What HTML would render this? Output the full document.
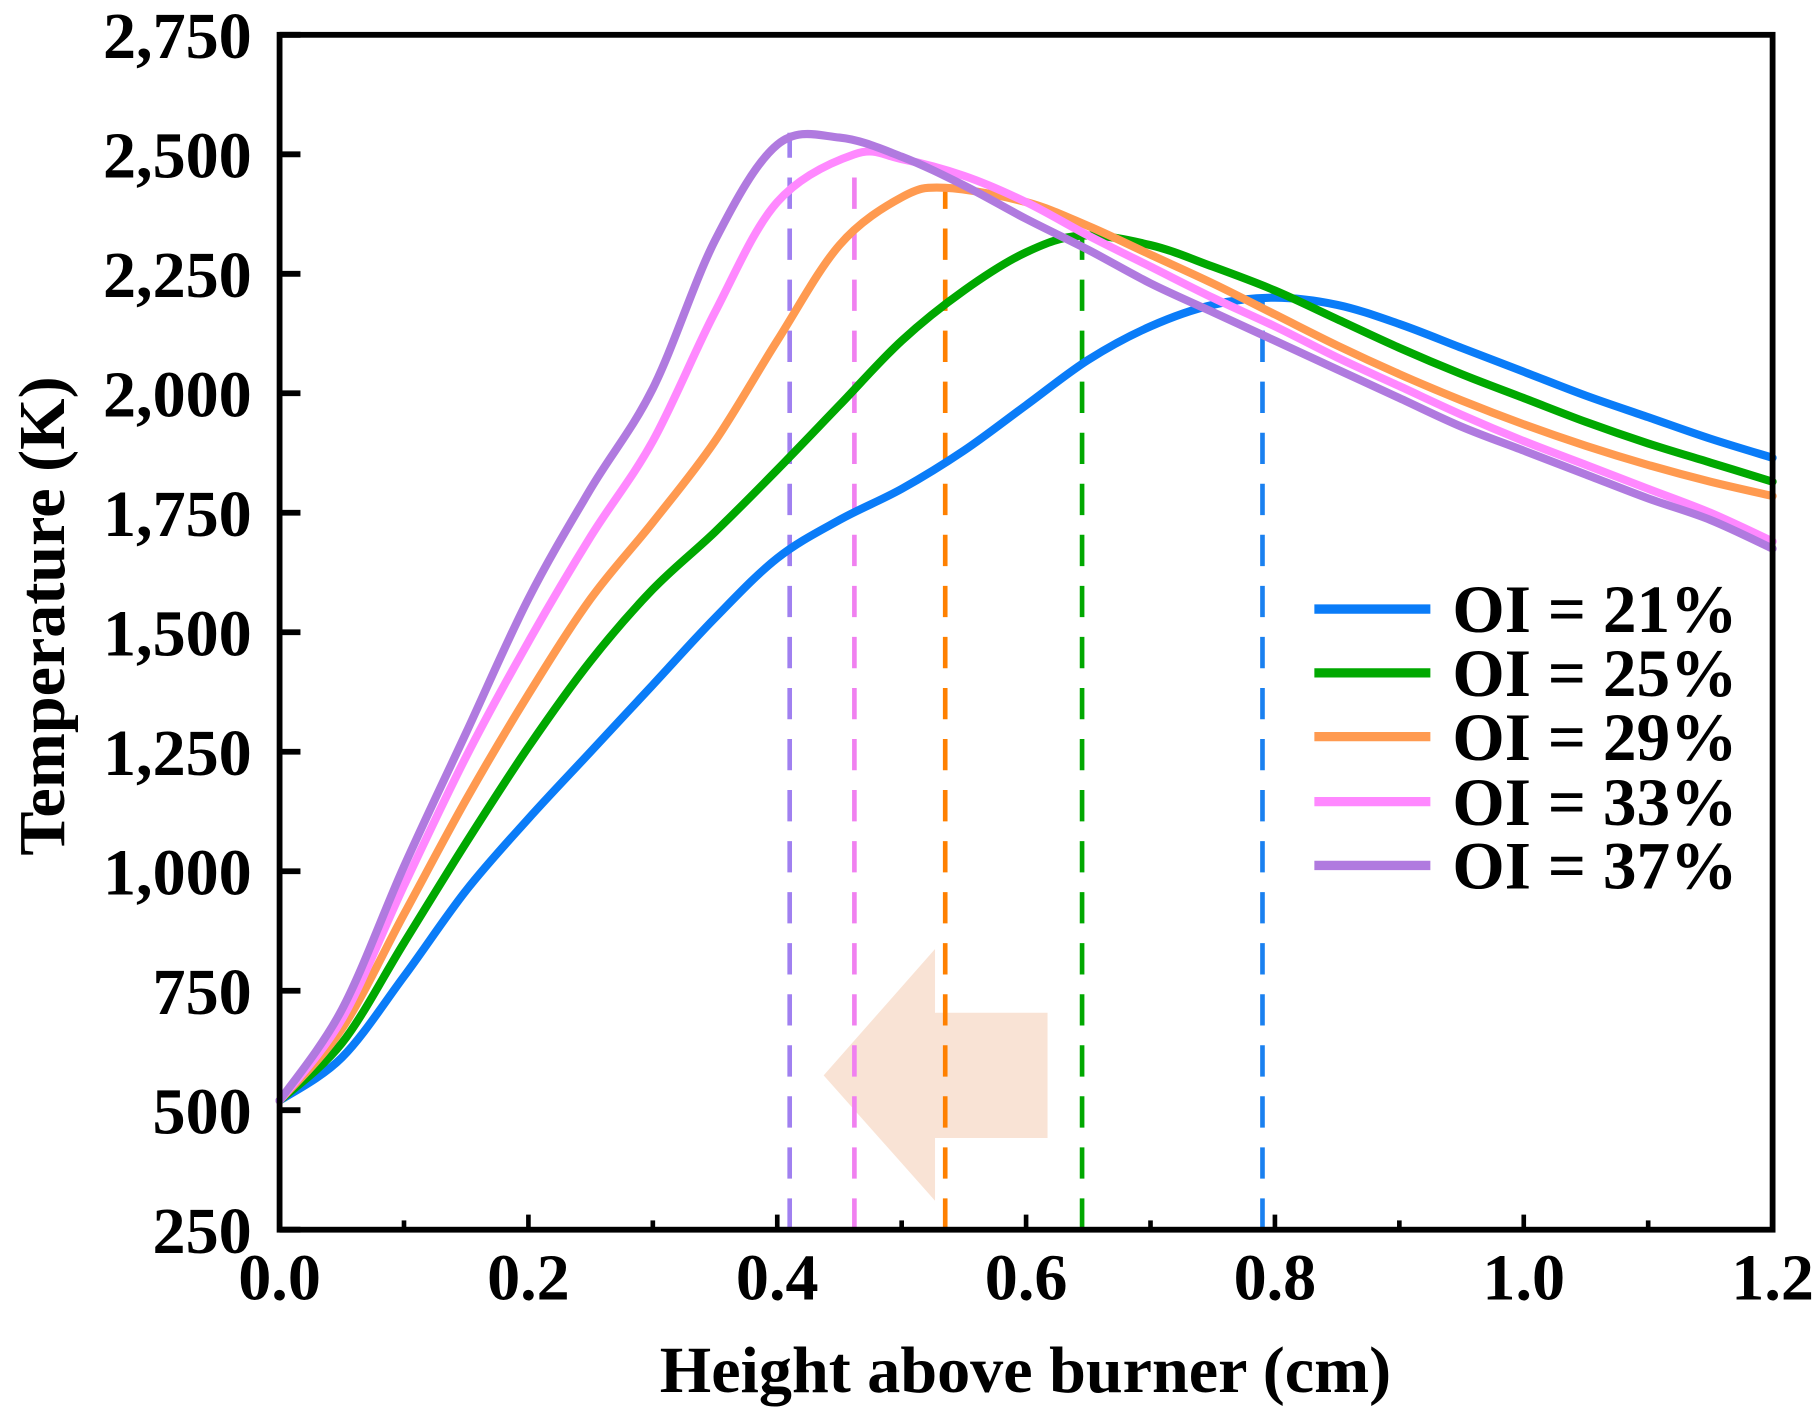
<!DOCTYPE html>
<html><head><meta charset="utf-8"><style>
html,body{margin:0;padding:0;background:#fff;}
svg{display:block;}
text{font-family:"Liberation Serif",serif;font-weight:bold;fill:#000;}
</style></head><body>
<svg id="chart" width="1819" height="1413" viewBox="0 0 1568 1218" xmlns="http://www.w3.org/2000/svg"></svg>
<script>
const xTicks=[0,0.2,0.4,0.6,0.8,1.0,1.2];
const xTickLabels=["0.0","0.2","0.4","0.6","0.8","1.0","1.2"];
const yTicks=[250,500,750,1000,1250,1500,1750,2000,2250,2500,2750];
const yTickLabels=["250","500","750","1,000","1,250","1,500","1,750","2,000","2,250","2,500","2,750"];
const seriesNames=["OI = 21%","OI = 25%","OI = 29%","OI = 33%","OI = 37%"];
const seriesColors=["#0a7cf8","#00a800","#ff9a50","#ff88ff","#b07adf"];
const dashColors=["#1a80f0","#00a800","#ff8000","#f080f0","#a080f0"];
const x21=[0,0.05,0.1,0.15,0.2,0.25,0.3,0.35,0.4,0.45,0.5,0.55,0.6,0.65,0.7,0.75,0.8,0.85,0.9,0.95,1.0,1.05,1.1,1.15,1.2];
const t21=[520,610,780,960,1110,1250,1390,1530,1655,1735,1800,1880,1975,2070,2140,2185,2200,2185,2145,2095,2045,1995,1950,1905,1865];
const x25=[0,0.05,0.1,0.15,0.2,0.25,0.3,0.35,0.4,0.45,0.5,0.55,0.6,0.645,0.7,0.75,0.8,0.85,0.9,0.95,1.0,1.05,1.1,1.15,1.2];
const t25=[520,640,850,1060,1260,1440,1590,1710,1840,1975,2110,2215,2295,2330,2310,2265,2215,2155,2095,2040,1990,1940,1895,1855,1815];
const x29=[0,0.05,0.1,0.15,0.2,0.25,0.3,0.35,0.4,0.45,0.5,0.535,0.6,0.65,0.7,0.75,0.8,0.85,0.9,0.95,1.0,1.05,1.1,1.15,1.2];
const t29=[520,670,910,1150,1370,1570,1730,1900,2110,2310,2410,2430,2400,2350,2290,2230,2165,2100,2040,1985,1935,1890,1850,1815,1785];
const x33=[0,0.05,0.1,0.15,0.2,0.25,0.3,0.35,0.4,0.462,0.5,0.55,0.6,0.65,0.7,0.75,0.8,0.85,0.9,0.95,1.0,1.05,1.1,1.15,1.2];
const t33=[520,690,970,1240,1480,1700,1900,2170,2400,2500,2490,2455,2400,2330,2265,2200,2140,2075,2015,1955,1900,1850,1800,1750,1690];
const x37=[0,0.05,0.1,0.15,0.2,0.25,0.3,0.35,0.4,0.45,0.5,0.55,0.6,0.65,0.7,0.75,0.8,0.85,0.9,0.95,1.0,1.05,1.1,1.15,1.2];
const t37=[520,710,1010,1290,1570,1800,2010,2320,2520,2535,2495,2435,2365,2300,2230,2170,2110,2050,1990,1930,1880,1830,1780,1735,1675];
const peakX=[0.79,0.645,0.535,0.462,0.41];
const peakT=[2200,2330,2430,2500,2545];

const svg=document.getElementById('chart');
const NS='http://www.w3.org/2000/svg';
const L=241,R=1528,T=30,B=1060;
const sx=v=>L+(v-0)/1.2*(R-L);
const sy=v=>B-(v-250)/2500*(B-T);
function mk(tag,attrs,parent){const e=document.createElementNS(NS,tag);for(const k in attrs)e.setAttribute(k,attrs[k]);(parent||svg).appendChild(e);return e;}

const arrow=mk('polygon',{points:'903,873 903,981 806,981 806,1035 710,927 806,818 806,873',fill:'#f9e3d5'});



const allX=[x21,x25,x29,x33,x37], allT=[t21,t25,t29,t33,t37];
for(let i=0;i<5;i++){
  const d=mk('line',{x1:sx(peakX[i]),x2:sx(peakX[i]),y1:B,y2:sy(peakT[i]),stroke:dashColors[i],'stroke-width':4,'stroke-dasharray':'27 17'});
  
  
}
function pathFor(xs,ts){
  const p=xs.map((x,i)=>[sx(x),sy(ts[i])]);
  let d='M'+p[0][0]+','+p[0][1];
  for(let i=0;i<p.length-1;i++){
    const p0=p[i-1]||p[i],p1=p[i],p2=p[i+1],p3=p[i+2]||p[i+1];
    const c1=[p1[0]+(p2[0]-p0[0])/6,p1[1]+(p2[1]-p0[1])/6];
    const c2=[p2[0]-(p3[0]-p1[0])/6,p2[1]-(p3[1]-p1[1])/6];
    d+=' C'+c1+' '+c2+' '+p2;
  }
  return d;
}
for(let i=0;i<5;i++){
  const c=mk('path',{d:pathFor(allX[i],allT[i]),fill:'none',stroke:seriesColors[i],'stroke-width':7,'stroke-linecap':'round','stroke-linejoin':'round'});
  
  
}
const frame=mk('rect',{x:L,y:T,width:R-L,height:B-T,fill:'none',stroke:'#000','stroke-width':5});


xTicks.forEach((v,i)=>{
  const t=mk('line',{x1:sx(v),x2:sx(v),y1:B,y2:B-13,stroke:'#000','stroke-width':4});
  
  
  const lb=mk('text',{x:sx(v),y:B+60,'text-anchor':'middle','font-size':57});
  lb.textContent=xTickLabels[i];
  
  
  if(i<xTicks.length-1){
    const m=mk('line',{x1:sx(v+0.1),x2:sx(v+0.1),y1:B,y2:B-8,stroke:'#000','stroke-width':4});
    
    
  }
});
yTicks.forEach((v,i)=>{
  const t=mk('line',{x1:L,x2:L+18,y1:sy(v),y2:sy(v),stroke:'#000','stroke-width':5});
  
  
  const lb=mk('text',{x:217,y:sy(v)+20,'text-anchor':'end','font-size':57});
  lb.textContent=yTickLabels[i];
  
  
});
const xt=mk('text',{x:884,y:1200,'text-anchor':'middle','font-size':57});
xt.textContent='Height above burner (cm)';


const yt=mk('text',{x:0,y:0,'text-anchor':'middle','font-size':57,transform:'translate(55,531) rotate(-90)'});
yt.textContent='Temperature (K)';


const legYs=[525,580,635,691,746];
for(let i=0;i<5;i++){
  const g=mk('g',{});
  
  
  mk('line',{x1:1133,x2:1233,y1:legYs[i],y2:legYs[i],stroke:seriesColors[i],'stroke-width':8},g);
  const tx=mk('text',{x:1252,y:legYs[i]+20,'font-size':58},g);
  tx.textContent=seriesNames[i];
}
</script>
</body></html>
